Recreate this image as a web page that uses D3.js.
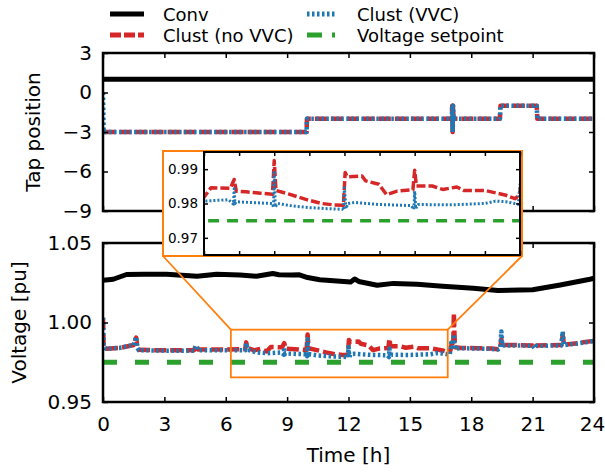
<!DOCTYPE html>
<html>
<head>
<meta charset="utf-8">
<script src="https://cdn.jsdelivr.net/npm/d3@7"></script>
<style>
  body { margin: 0; background: #fff; }
  svg text { font-family: "DejaVu Sans", sans-serif; fill: #000; }
</style>
</head>
<body>
<svg id="chart" width="605" height="472"></svg>
<script>
// ---- data ----
var seriesNames = ["Conv", "Clust (VVC)", "Clust (no VVC)", "Voltage setpoint"];
var hourTicks = [0, 3, 6, 9, 12, 15, 18, 21, 24];
var tapTicks = [-9, -6, -3, 0, 3];
var voltTicks = [0.95, 1.00, 1.05];
var insetHourTicks = [8, 9, 10, 11, 12, 13, 14, 15, 16, 17];
var insetVoltTicks = [0.97, 0.98, 0.99];

// tap position
var convTapT = [0, 24];
var convTapV = [1, 1];
var noVvcTapT = [0.03, 9.95, 9.97, 17.05, 17.07, 17.09, 17.11, 17.13, 19.4, 19.43, 21.2, 21.23, 24];
var noVvcTapV = [-3, -3, -2, -2, -1, -3, -1, -2, -2, -1, -1, -2, -2];
var vvcTapT = [0, 0.03, 9.95, 9.97, 17.05, 17.07, 17.09, 17.11, 17.13, 19.4, 19.43, 21.2, 21.23, 24];
var vvcTapV = [0, -3, -3, -2, -2, -1, -3, -1, -2, -2, -1, -1, -2, -2];

// voltage [pu]
var convT = [0, 0.5, 1.15, 2, 3.1, 4.6, 5.55, 6.7, 7.5, 8.3, 8.6, 9.2, 9.6, 10, 10.6, 12.1, 12.3, 12.5, 13.4, 14.2, 15.35, 16.6, 18.1, 19.3, 21.0, 22.35, 23.8, 24];
var convV = [1.0265, 1.0272, 1.0302, 1.0304, 1.0304, 1.0291, 1.0303, 1.0299, 1.0291, 1.0308, 1.0300, 1.0298, 1.0300, 1.0283, 1.0269, 1.0254, 1.0274, 1.0258, 1.0234, 1.0246, 1.0240, 1.0228, 1.0216, 1.0201, 1.0206, 1.0236, 1.0272, 1.0278];

var noVvcT = [0, 0.03, 0.15, 0.8, 1.5, 1.62, 1.68, 1.75, 3.0, 4.45, 4.55, 4.65, 6.0, 6.95, 7.0, 7.06, 7.4, 7.7, 8.0, 8.2, 8.75, 8.86, 8.92, 9.2, 9.6, 9.95, 10.0, 10.05, 10.4, 10.9, 11.35, 11.7, 11.97, 12.02, 12.08, 12.5, 12.6, 12.98, 13.2, 13.5, 13.95, 14.0, 14.05, 14.5, 14.8, 15.2, 15.4, 16.0, 16.6, 16.86, 16.98, 17.05, 17.12, 17.15, 17.2, 17.5, 18.3, 19.0, 19.3, 19.42, 19.47, 19.52, 20.3, 21.0, 21.1, 21.2, 22.4, 22.47, 22.53, 23.2, 24];
var noVvcV = [1.003, 0.9850, 0.9835, 0.9840, 0.9858, 0.9905, 0.9840, 0.9828, 0.9825, 0.9825, 0.9860, 0.9830, 0.9830, 0.9832, 0.9875, 0.9840, 0.9825, 0.9835, 0.9818, 0.9846, 0.9844, 0.9870, 0.9836, 0.9834, 0.9830, 0.9827, 0.9925, 0.9838, 0.9828, 0.9812, 0.9800, 0.9796, 0.9795, 0.9890, 0.9878, 0.9880, 0.9866, 0.9856, 0.9826, 0.9836, 0.9840, 0.9897, 0.9851, 0.9851, 0.9841, 0.9848, 0.9838, 0.9838, 0.9824, 0.9814, 0.9825, 0.9870, 0.9850, 1.0060, 0.9845, 0.9840, 0.9838, 0.9836, 0.9832, 0.9838, 0.9895, 0.9858, 0.9858, 0.9855, 0.9840, 0.9855, 0.9858, 0.9920, 0.9860, 0.9870, 0.9885];

var vvcT = [0, 0.03, 0.15, 0.8, 1.5, 1.62, 1.68, 1.75, 3.0, 4.45, 4.55, 4.65, 6.0, 6.95, 7.0, 7.06, 7.5, 8.0, 8.7, 8.84, 8.86, 8.88, 8.92, 9.5, 9.95, 9.98, 10.0, 10.03, 10.1, 10.5, 11.0, 11.5, 11.95, 11.98, 12.0, 12.04, 12.1, 12.3, 13.0, 13.9, 13.98, 14.0, 14.03, 14.1, 15.0, 16.0, 16.3, 16.6, 16.95, 17.02, 17.1, 17.15, 17.2, 17.5, 18.3, 19.0, 19.3, 19.42, 19.47, 19.52, 20.3, 21.0, 21.1, 21.2, 22.4, 22.47, 22.53, 23.2, 24];
var vvcV = [1.003, 0.9850, 0.9835, 0.9840, 0.9858, 0.9910, 0.9840, 0.9826, 0.9823, 0.9822, 0.9855, 0.9825, 0.9825, 0.9825, 0.9870, 0.9830, 0.9812, 0.9807, 0.9811, 0.9798, 0.9843, 0.9800, 0.9805, 0.9802, 0.9800, 0.9788, 0.9895, 0.9790, 0.9800, 0.9793, 0.9788, 0.9785, 0.9783, 0.9780, 0.9846, 0.9785, 0.9800, 0.9803, 0.9797, 0.9794, 0.9783, 0.9836, 0.9785, 0.9797, 0.9796, 0.9800, 0.9807, 0.9805, 0.9798, 0.9873, 0.9830, 0.9925, 0.9835, 0.9838, 0.9836, 0.9834, 0.9830, 0.9838, 0.9944, 0.9856, 0.9856, 0.9853, 0.9838, 0.9853, 0.9856, 0.9944, 0.9858, 0.9868, 0.9884];

var setpointT = [0, 24];
var setpointV = [0.975, 0.975];

// zoomed window shown in the inset (main-plot marker box)
var zoomBoxT = [6.25, 16.85];
var zoomBoxV = [0.9655, 0.9955];

// ---- layout ----
var left = 103, right = 594;
var tapTop = 53, tapBottom = 211, vTop = 243, vBottom = 402;
var colors = {conv: "#000", vvc: "#1f77b4", novvc: "#d62728", set: "#2ca02c", box: "#ff7f0e"};

var svg = d3.select("#chart");

var x = d3.scaleLinear().domain([0, 24]).range([left, right]);
var yTap = d3.scaleLinear().domain([-9, 3]).range([tapBottom, tapTop]);
var yV = d3.scaleLinear().domain([0.95, 1.05]).range([vBottom, vTop]);

function pts(t, v) { return d3.zip(t, v); }

function addSeries(g, xs, ys, t, v, color, width, dash, clipId) {
  var line = d3.line().x(function(d) { return xs(d[0]); }).y(function(d) { return ys(d[1]); });
  g.append("path")
    .datum(pts(t, v))
    .attr("d", line)
    .attr("fill", "none")
    .attr("stroke", color)
    .attr("stroke-width", width)
    .attr("stroke-dasharray", dash)
    .attr("stroke-linejoin", "round")
    .attr("clip-path", "url(#" + clipId + ")");
}

function addAxes(g, xs, ys, xt, yt, xfmt, yfmt, fs, tickLen, padX, padY) {
  var r = ys.range(), xr = xs.range();
  var ax = [
    g.append("g").attr("transform", "translate(0," + r[0] + ")")
      .call(d3.axisBottom(xs).tickValues(xt).tickSize(-tickLen).tickPadding(padX).tickFormat(xfmt)),
    g.append("g").attr("transform", "translate(0," + r[1] + ")")
      .call(d3.axisTop(xs).tickValues(xt).tickSize(-tickLen).tickFormat("")),
    g.append("g").attr("transform", "translate(" + xr[0] + ",0)")
      .call(d3.axisLeft(ys).tickValues(yt).tickSize(-tickLen).tickPadding(padY).tickFormat(yfmt)),
    g.append("g").attr("transform", "translate(" + xr[1] + ",0)")
      .call(d3.axisRight(ys).tickValues(yt).tickSize(-tickLen).tickFormat(""))
  ];
  ax.forEach(function(a) {
    a.select(".domain").remove();
    a.selectAll("line").attr("stroke", "#000").attr("stroke-width", 1.5);
    a.selectAll("text").style("font-size", fs + "px").style("font-family", "DejaVu Sans");
  });
  return ax;
}

function addClip(id, x0, y0, w, h) {
  svg.append("clipPath").attr("id", id).append("rect")
    .attr("x", x0).attr("y", y0).attr("width", w).attr("height", h);
}

addClip("clipTap", left, tapTop, right - left, tapBottom - tapTop);
addClip("clipV", left, vTop, right - left, vBottom - vTop);

// ---- top panel: tap position ----
var gTap = svg.append("g");
addSeries(gTap, x, yTap, convTapT, convTapV, colors.conv, 5, null, "clipTap");
addSeries(gTap, x, yTap, noVvcTapT, noVvcTapV, colors.novvc, 4.5, "12,4", "clipTap");
addSeries(gTap, x, yTap, vvcTapT, vvcTapV, colors.vvc, 4.5, "2.5,2.5", "clipTap");
addAxes(gTap, x, yTap, hourTicks, tapTicks, function() { return ""; }, d3.format("d"), 20, 5, 15, 11);
gTap.append("rect").attr("x", left).attr("y", tapTop).attr("width", right - left).attr("height", tapBottom - tapTop)
  .attr("fill", "none").attr("stroke", "#000").attr("stroke-width", 2.5);

// ---- bottom panel: voltage ----
var gV = svg.append("g");
addSeries(gV, x, yV, convT, convV, colors.conv, 5, null, "clipV");
addSeries(gV, x, yV, noVvcT, noVvcV, colors.novvc, 4.5, "12,4", "clipV");
addSeries(gV, x, yV, vvcT, vvcV, colors.vvc, 4.5, "2.5,2.5", "clipV");
addSeries(gV, x, yV, setpointT, setpointV, colors.set, 5, "14,18", "clipV");
var vAxes = addAxes(gV, x, yV, hourTicks, voltTicks, d3.format("d"), d3.format(".2f"), 20, 5, 15, 11);
// keep the last hour label inside the page
vAxes[0].selectAll("text").filter(function(d) { return d === 24; }).attr("dx", "-2");
gV.append("rect").attr("x", left).attr("y", vTop).attr("width", right - left).attr("height", vBottom - vTop)
  .attr("fill", "none").attr("stroke", "#000").attr("stroke-width", 2.5);

// axis labels
svg.append("text").attr("x", (left + right) / 2).attr("y", 462).attr("text-anchor", "middle")
  .style("font-size", "20px").text("Time [h]");
svg.append("text").attr("transform", "translate(40," + (tapTop + tapBottom) / 2 + ") rotate(-90)")
  .attr("text-anchor", "middle").style("font-size", "20px").text("Tap position");
svg.append("text").attr("transform", "translate(26," + (vTop + vBottom) / 2 + ") rotate(-90)")
  .attr("text-anchor", "middle").style("font-size", "20px").text("Voltage [pu]");

// ---- inset ----
var inset = {x0: 204, x1: 520, y0: 152, y1: 255};
var frame = {x0: 163, x1: 522, y0: 151, y1: 256};
var xi = d3.scaleLinear().domain([8, 17]).range([inset.x0, inset.x1]);
var yi = d3.scaleLinear().domain([0.965, 0.995]).range([inset.y1, inset.y0]);

// marker box in the main plot + connectors
var bx0 = x(zoomBoxT[0]), bx1 = x(zoomBoxT[1]), by0 = yV(zoomBoxV[1]), by1 = yV(zoomBoxV[0]);
svg.append("rect").attr("x", bx0).attr("y", by0).attr("width", bx1 - bx0).attr("height", by1 - by0)
  .attr("fill", "none").attr("stroke", colors.box).attr("stroke-width", 1.8);
svg.append("line").attr("x1", bx0).attr("y1", by0).attr("x2", frame.x0).attr("y2", frame.y1)
  .attr("stroke", colors.box).attr("stroke-width", 1.8);
svg.append("line").attr("x1", bx1).attr("y1", by0).attr("x2", frame.x1).attr("y2", frame.y1)
  .attr("stroke", colors.box).attr("stroke-width", 1.8);

var gI = svg.append("g");
gI.append("rect").attr("x", frame.x0).attr("y", frame.y0).attr("width", frame.x1 - frame.x0).attr("height", frame.y1 - frame.y0)
  .attr("fill", "#fff").attr("stroke", colors.box).attr("stroke-width", 2);
addClip("clipI", inset.x0, inset.y0, inset.x1 - inset.x0, inset.y1 - inset.y0);
addSeries(gI, xi, yi, noVvcT, noVvcV, colors.novvc, 3.5, "9,3", "clipI");
addSeries(gI, xi, yi, vvcT, vvcV, colors.vvc, 3, "2,2", "clipI");
addSeries(gI, xi, yi, setpointT, setpointV, colors.set, 3.5, "11,8", "clipI");
addAxes(gI, xi, yi, insetHourTicks, insetVoltTicks, function() { return ""; }, d3.format(".2f"), 13.5, 4, 6, 6);
gI.append("rect").attr("x", inset.x0).attr("y", inset.y0).attr("width", inset.x1 - inset.x0).attr("height", inset.y1 - inset.y0)
  .attr("fill", "none").attr("stroke", "#000").attr("stroke-width", 2);

// ---- legend ----
var legend = [
  {name: seriesNames[0], color: colors.conv, dash: null, lx: 110, tx: 163, y: 21},
  {name: seriesNames[1], color: colors.vvc, dash: "2.5,2.5", lx: 307, tx: 357, y: 21},
  {name: seriesNames[2], color: colors.novvc, dash: "11,3", lx: 110, tx: 163, y: 42},
  {name: seriesNames[3], color: colors.set, dash: "15,10", lx: 307, tx: 357, y: 42}
];
var gL = svg.append("g");
legend.forEach(function(d) {
  gL.append("line").attr("x1", d.lx).attr("x2", d.lx + (d.lx < 200 ? 34 : 28))
    .attr("y1", d.y - 7).attr("y2", d.y - 7)
    .attr("stroke", d.color).attr("stroke-width", 5).attr("stroke-dasharray", d.dash);
  gL.append("text").attr("x", d.tx).attr("y", d.y).style("font-size", "18px").text(d.name);
});
</script>
</body>
</html>
